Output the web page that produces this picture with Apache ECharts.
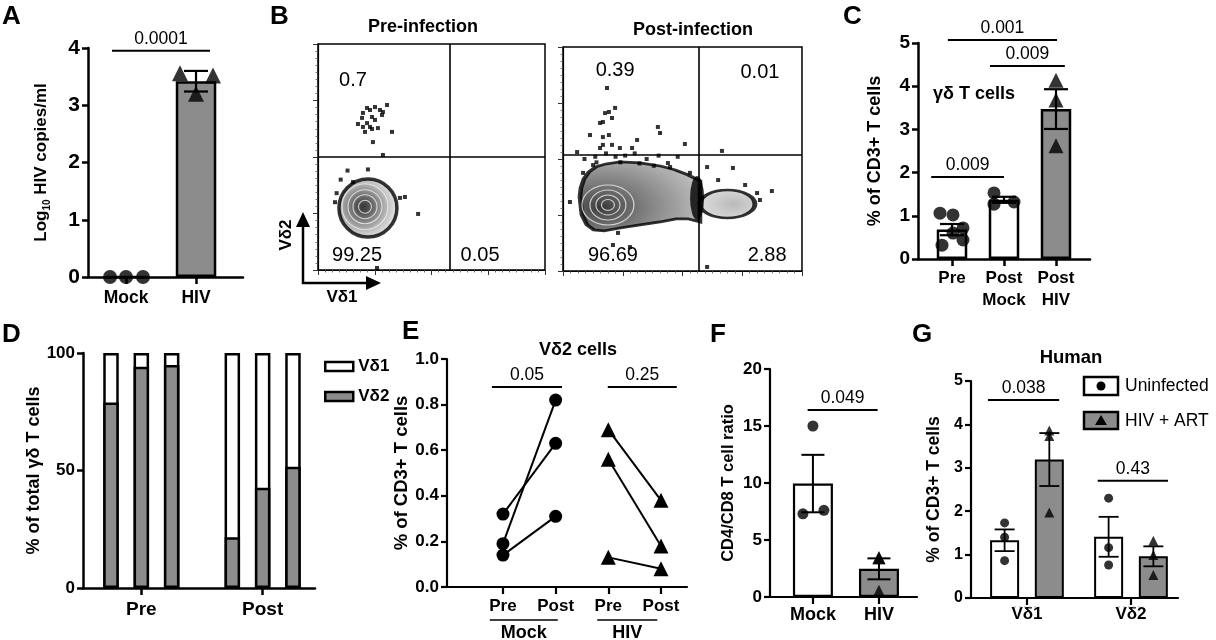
<!DOCTYPE html>
<html><head><meta charset="utf-8">
<script src="https://cdn.jsdelivr.net/npm/echarts@6/dist/echarts.min.js"></script>
<style>html,body{margin:0;padding:0;background:#fff}#c{width:1216px;height:640px}</style>
</head><body><div id="c"></div>
<script>
const FONT = '"Liberation Sans", Arial, Helvetica, sans-serif';
const GREY = '#8c8c8c';

// ---------------- DATA ----------------
// A
const aCats = ['Mock', 'HIV'];
const aMockPts = [0, 0, 0];
const aHivPts = [3.56, 3.20, 3.52];
const aMean = [0, 3.42];
const aSem = [0, 0.18];
// B (flow cytometry, arbitrary 0-100 scale)
const bPreDots = [[19.8,69.5],[21.6,71.7],[22.9,70.8],[25.1,72.1],[27.3,70.8],[30.4,73.0],[28.6,69.9],[23.8,67.7],[21.6,65.0],[17.6,64.6],[19.8,63.3],[22.9,63.3],[20.7,61.1],[23.8,62.4],[26.4,62.8],[32.6,61.1],[24.2,56.6],[28.6,50.9],[25.1,66.4],[28.2,68.6],[19.4,67.3],[36.1,31.9],[38.3,32.3],[44.1,24.8],[26.0,0.9],[15.4,38.9],[7.5,30],[8.2,34],[10,40],[13,44],[22,44.5]];
const bPostDots = [[18.4,81.7],[17.6,70.5],[19.2,71.0],[21.8,72.8],[15.5,66.1],[16.7,66.5],[20.5,68.3],[11.3,60.7],[16.7,59.8],[19.2,60.7],[16.7,56.3],[20.5,56.3],[23.8,54.9],[15.5,54.9],[31.0,58.5],[28.9,54.9],[39.7,64.3],[40.6,61.6],[51.0,56.7],[5.9,53.1],[66.5,53.6],[71.1,46.0],[60.3,46.4],[76.2,38.4],[81.2,34.8],[87.4,35.7],[82.4,31.7],[2.9,30.8],[8.4,43.8],[12.6,47.3],[23.0,17.0],[20.9,11.6],[28.0,10.7],[60.3,1.8],[43.9,48.2],[44.8,46.4],[53.1,43.8],[64.9,40.6],[13.5,51],[26,51.5],[35,50],[9,50],[48,51],[18,52.5],[22,51],[30,52.5],[40,51.5],[14,48.5],[24,48.5],[32,48],[38,47]];
const bPrePop = [22, 27.4];
const bPreCore = [20.7, 28];
const bPostPop = [32.2, 33.3];
const bPostCore = [18.8, 29.5];
const bPostPop2 = [68.8, 29.9];
const bPostWaist = [56.1, 32.6];
const bPreGate = [58, 50];
const bPostGate = [57, 52];
const bPreQuad = ['0.7', '', '99.25', '0.05'];
const bPostQuad = ['0.39', '0.01', '96.69', '2.88'];
// C
const cCats = ['Pre', 'Post\nMock', 'Post\nHIV'];
const cPrePts = [1.06, 1.02, 0.72, 0.32, 0.60, 0.44];
const cPostMockPts = [1.53, 1.27, 1.32];
const cPostHivPts = [4.14, 3.68, 2.62];
const cMean = [0.68, 1.37, 3.47];
const cSem = [0.13, 0.07, 0.46];
// D
const dCats = ['Pre', 'Post'];
const dVd1 = [21.1, 5.8, 5.1, 78.4, 57.3, 48.4];
const dVd2 = [78.9, 94.2, 94.9, 21.6, 42.7, 51.6];
// E
const eTicks = ['Pre', 'Post', 'Pre', 'Post'];
const eGroups = ['Mock', 'HIV'];
const eMockPre = [0.19, 0.32, 0.14];
const eMockPost = [0.82, 0.63, 0.31];
const eHivPre = [0.69, 0.56, 0.13];
const eHivPost = [0.38, 0.18, 0.08];
// F
const fCats = ['Mock', 'HIV'];
const fMockPts = [15.0, 7.3, 7.6];
const fHivPts = [3.45, 3.45, 0.5];
const fMean = [9.95, 2.47];
const fSem = [2.52, 0.92];
// G
const gCats = ['Vδ1', 'Vδ2'];
const gUninf = [[1.73, 1.40, 0.86], [2.30, 1.16, 0.76]];
const gHiv = [[3.86, 3.73, 1.97], [1.32, 0.99, 0.53]];
const gUninfMean = [1.33, 1.41];
const gUninfSem = [0.25, 0.46];
const gHivMean = [3.19, 0.96];
const gHivSem = [0.61, 0.23];
// p-values
const pValues = ['0.0001', '0.001', '0.009', '0.009', '0.05', '0.25', '0.049', '0.038', '0.43'];

// ---------------- LAYOUT ----------------
const aJit = [-16, 0, 17];
const cJit = [[-12, 1, 11, -10, 1, 11], [-10, -10, 10], [0, 0, 0]];
const fJit = [[0, -10, 11], [0, 0, 0]];
const dX = [0, 1, 2, 4, 5, 6];
const gOff = 0.215;
const sigLayout = [
  {g:0, x1:-0.2, x2:1.2, y:3.95},
  {g:3, x1:-0.08, x2:2.02, y:5.07},
  {g:3, x1:0.73, x2:2.17, y:4.47},
  {g:3, x1:-0.4, x2:1.0, y:1.9},
  {g:5, x1:0.79, x2:2.12, y:0.877},
  {g:5, x1:2.99, x2:4.30, y:0.877},
  {g:6, x1:-0.08, x2:0.98, y:16.4},
  {g:7, x1:-0.375, x2:0.31, y:4.56},
  {g:7, x1:0.68, x2:1.356, y:2.7}
];

const grids = [
  {left:88, top:48, width:155, height:229},
  {left:318, top:44, width:227, height:226, show:true, borderColor:'#000', borderWidth:1.5},
  {left:563, top:47, width:239, height:224, show:true, borderColor:'#000', borderWidth:1.5},
  {left:918, top:43, width:172, height:216},
  {left:83, top:353, width:232, height:235},
  {left:447, top:359, width:240, height:228},
  {left:770, top:369, width:147, height:228},
  {left:971, top:381, width:207, height:217}
];

function yAx(gi, min, max, interval, fs, lw, name, nameGap, nfs, fmt, nameStyle) {
  return {type:'value', gridIndex:gi, min, max, interval,
    axisLine:{show:true, onZero:false, lineStyle:{color:'#000', width:lw}},
    axisTick:{show:true, length:6, lineStyle:{color:'#000', width:lw}},
    axisLabel:{color:'#000', fontWeight:'bold', fontSize:fs, fontFamily:FONT, margin:8, formatter:fmt},
    splitLine:{show:false},
    name, nameLocation:'middle', nameGap, nameRotate:90,
    nameTextStyle: nameStyle || {color:'#000', fontWeight:'bold', fontSize:nfs, fontFamily:FONT}
  };
}
function xAx(gi, min, max, vals, labels, fs, lw, margin, lh) {
  return {type:'value', gridIndex:gi, min, max,
    axisLine:{show:true, onZero:false, lineStyle:{color:'#000', width:lw}},
    axisTick:{show:true, length:7, customValues:vals, lineStyle:{color:'#000', width:lw}},
    axisLabel:{show:true, customValues:vals,
      formatter:(v)=>{const k = vals.findIndex(u=>Math.abs(u-v)<1e-6); return k>=0 ? labels[k] : '';},
      color:'#000', fontWeight:'bold', fontSize:fs, fontFamily:FONT, margin, lineHeight: lh || fs + 4},
    splitLine:{show:false}};
}
function flowAx(gi) {
  return {type:'value', gridIndex:gi, min:0, max:100, interval:25,
    axisLine:{show:true, onZero:false, lineStyle:{color:'#000', width:1.2}},
    axisTick:{show:true, length:5, lineStyle:{color:'#333', width:1}},
    minorTick:{show:true, splitNumber:8, length:2.5, lineStyle:{color:'#555', width:0.8}},
    axisLabel:{show:false}, splitLine:{show:false}};
}
function errRender(capHalf, lw) {
  return function (params, api) {
    const x = api.value(0), m = api.value(1), s = api.value(2);
    if (!s) return null;
    const t = api.coord([x, m + s]), b = api.coord([x, m - s]);
    const st = {stroke:'#000', lineWidth:lw};
    return {type:'group', children:[
      {type:'line', shape:{x1:t[0], y1:t[1], x2:b[0], y2:b[1]}, style:st},
      {type:'line', shape:{x1:t[0]-capHalf, y1:t[1], x2:t[0]+capHalf, y2:t[1]}, style:st},
      {type:'line', shape:{x1:b[0]-capHalf, y1:b[1], x2:b[0]+capHalf, y2:b[1]}, style:st}
    ]};
  };
}
const barStyle = (c, bw) => ({color:c, borderColor:'#000', borderWidth:bw});
function pts(gi, arr, x, sym, size, jit) {
  return {type:'scatter', xAxisIndex:gi, yAxisIndex:gi, symbol:sym, symbolSize:size, clip:false, z:5,
    itemStyle:{color:'#000'},
    data: arr.map((v, i) => ({value:[x, v], symbolOffset:[jit ? jit[i] : 0, 0]}))};
}
function radial(x, y, r, stops) {
  return {type:'radial', x, y, r, colorStops: stops.map(s => ({offset:s[0], color:s[1]}))};
}

const xAxis = [
  xAx(0, -0.543, 1.671, [0, 1], aCats, 17.5, 2.5, 10),
  flowAx(1), flowAx(2),
  xAx(3, -0.654, 2.654, [0, 1, 2], cCats, 17, 2.5, 8, 22),
  xAx(4, -0.923, 6.726, [1, 5], dCats, 19, 2.5, 10),
  xAx(5, -0.063, 4.494, [1, 2, 3, 4], eTicks, 17, 2.2, 9),
  xAx(6, -0.65, 1.576, [0, 1], fCats, 18, 2.2, 7),
  xAx(7, -0.538, 1.452, [0, 1], gCats, 17, 2.2, 6)
];
const yAxis = [
  yAx(0, 0, 4, 1, 21, 2.5, '{a|Log}{s|10}{a| HIV copies/ml}', 36, 17, null,
      {rich:{a:{color:'#000', fontWeight:'bold', fontSize:17, fontFamily:FONT, lineHeight:22},
             s:{color:'#000', fontWeight:'bold', fontSize:10, fontFamily:FONT, lineHeight:22, verticalAlign:'bottom'}}}),
  flowAx(1), flowAx(2),
  yAx(3, 0, 5, 1, 19, 2.5, '% of CD3+ T cells', 34, 18),
  yAx(4, 0, 100, 50, 17, 2.5, '% of total γδ T cells', 40, 18),
  yAx(5, 0, 1, 0.2, 17, 2.2, '% of CD3+ T cells', 22, 18.5, v => v.toFixed(1)),
  yAx(6, 0, 20, 5, 17, 2.2, 'CD4/CD8 T cell ratio', 33, 16.5),
  yAx(7, 0, 5, 1, 16, 2.2, '% of CD3+ T cells', 28, 17.5)
];

const series = [];
// ---- A ----
series.push({type:'bar', xAxisIndex:0, yAxisIndex:0, barWidth:40.5, z:2,
  data: aMean.map((m, i) => ({value:[i, m], itemStyle: barStyle(i ? GREY : '#fff', 2.5)}))});
series.push({type:'custom', xAxisIndex:0, yAxisIndex:0, z:6, renderItem: errRender(12, 2.2), encode:{x:0, y:1},
  data: aMean.map((m, i) => [i, m, aSem[i]])});
series.push(pts(0, aMockPts, 0, 'circle', 14, aJit));
series.push(pts(0, aHivPts, 1, 'triangle', 16, aJit));
// ---- B ----
function flowSeries(gi, dots, gate) {
  return {type:'scatter', xAxisIndex:gi, yAxisIndex:gi, symbol:'rect', symbolSize:4, z:4,
    itemStyle:{color:'#000'}, data: dots,
    markLine:{silent:true, symbol:'none', label:{show:false}, z:6,
      lineStyle:{color:'#000', type:'solid', width:1.6},
      data:[{xAxis:gate[0]}, {yAxis:gate[1]}]}};
}
series.push({type:'scatter', xAxisIndex:1, yAxisIndex:1, symbol:'circle', symbolSize:58, z:2,
  itemStyle:{color: radial(0.42, 0.48, 0.55, [[0,'#050505'],[0.18,'#262626'],[0.45,'#6a6a6a'],[0.75,'#b4b4b4'],[1,'#e2e2e2']]),
    borderColor:'#000', borderWidth:3.5}, data:[bPrePop]});
series.push({type:'scatter', xAxisIndex:1, yAxisIndex:1, symbol:'circle', z:3,
  itemStyle:{color:'rgba(0,0,0,0)', borderColor:'#eee', borderWidth:1.1},
  data:[46, 34, 24, 13].map(s => ({value:bPreCore, symbolSize:s}))});
series.push(flowSeries(1, bPreDots, bPreGate));
series.push({type:'scatter', xAxisIndex:2, yAxisIndex:2, z:2,
  symbol:'path://M0,35 L1,26 L4,17 L9,10 L16,5 L26,2 L40,0 L60,1 L80,4 L95,8 L108,13 L120,19 L120,60 L108,57 L96,57 L80,60 L60,63 L40,66 L24,69 L14,68 L7,63 L2,53 Z',
  symbolSize:[120, 69],
  itemStyle:{color: radial(0.19, 0.65, 1.3, [[0,'#050505'],[0.08,'#262626'],[0.25,'#5a5a5a'],[0.5,'#909090'],[0.75,'#c2c2c2'],[1,'#e0e0e0']]),
    borderColor:'#000', borderWidth:3.5}, data:[bPostPop]});
series.push({type:'scatter', xAxisIndex:2, yAxisIndex:2, symbol:'circle', symbolSize:[55, 28], z:2,
  itemStyle:{color: radial(0.6, 0.5, 0.9, [[0,'#a9a9a9'],[0.5,'#cbcbcb'],[1,'#e8e8e8']]),
    borderColor:'#000', borderWidth:3.5}, data:[bPostPop2]});
series.push({type:'scatter', xAxisIndex:2, yAxisIndex:2, symbol:'circle', symbolSize:[14, 44], z:3,
  itemStyle:{color:'#000'}, data:[bPostWaist]});
series.push({type:'scatter', xAxisIndex:2, yAxisIndex:2, symbol:'circle', z:3,
  itemStyle:{color:'rgba(0,0,0,0)', borderColor:'#eee', borderWidth:1.1},
  data:[[52, 40], [36, 30], [24, 20], [13, 11]].map(s => ({value:bPostCore, symbolSize:s}))});
series.push(flowSeries(2, bPostDots, bPostGate));
// ---- C ----
series.push({type:'bar', xAxisIndex:3, yAxisIndex:3, barWidth:30.5, z:2,
  data: cMean.map((m, i) => ({value:[i, m], itemStyle: barStyle(i === 2 ? GREY : '#fff', 2.5)}))});
series.push({type:'custom', xAxisIndex:3, yAxisIndex:3, z:6, renderItem: errRender(12, 2.2), encode:{x:0, y:1},
  data: cMean.map((m, i) => [i, m, cSem[i]])});
series.push(pts(3, cPrePts, 0, 'circle', 13, cJit[0]));
series.push(pts(3, cPostMockPts, 1, 'circle', 13, cJit[1]));
series.push(pts(3, cPostHivPts, 2, 'triangle', 15, cJit[2]));
// ---- D ----
series.push({type:'bar', name:'Vδ1', xAxisIndex:4, yAxisIndex:4, barWidth:15.5, barGap:'-100%', z:2,
  itemStyle: barStyle('#fff', 2.5),
  data: dX.map((x, i) => [x, dVd1[i] + dVd2[i]])});
series.push({type:'bar', name:'Vδ2', xAxisIndex:4, yAxisIndex:4, barWidth:15.5, barGap:'-100%', z:3,
  itemStyle: barStyle(GREY, 2.5),
  data: dX.map((x, i) => [x, dVd2[i]])});
// ---- E ----
eMockPre.forEach((v, i) => series.push({type:'line', xAxisIndex:5, yAxisIndex:5, symbol:'circle', symbolSize:13,
  showSymbol:true, clip:false, lineStyle:{color:'#000', width:2}, itemStyle:{color:'#000'}, z:4,
  data:[[1, v], [2, eMockPost[i]]]}));
eHivPre.forEach((v, i) => series.push({type:'line', xAxisIndex:5, yAxisIndex:5, symbol:'triangle', symbolSize:15,
  showSymbol:true, clip:false, lineStyle:{color:'#000', width:2}, itemStyle:{color:'#000'}, z:4,
  data:[[3, v], [4, eHivPost[i]]]}));
// ---- F ----
series.push({type:'bar', xAxisIndex:6, yAxisIndex:6, barWidth:40, z:2,
  data: fMean.map((m, i) => ({value:[i, m], itemStyle: barStyle(i ? GREY : '#fff', 2.2)}))});
series.push({type:'custom', xAxisIndex:6, yAxisIndex:6, z:6, renderItem: errRender(11.5, 2), encode:{x:0, y:1},
  data: fMean.map((m, i) => [i, m, fSem[i]])});
series.push(pts(6, fMockPts, 0, 'circle', 11, fJit[0]));
series.push(pts(6, fHivPts, 1, 'triangle', 13, fJit[1]));
// ---- G ----
series.push({type:'bar', xAxisIndex:7, yAxisIndex:7, barWidth:29, barGap:'-100%', z:2,
  itemStyle: barStyle('#fff', 2), data: gUninfMean.map((m, i) => [i - gOff, m])});
series.push({type:'bar', xAxisIndex:7, yAxisIndex:7, barWidth:29, barGap:'-100%', z:2,
  itemStyle: barStyle(GREY, 2), data: gHivMean.map((m, i) => [i + gOff, m])});
series.push({type:'custom', xAxisIndex:7, yAxisIndex:7, z:6, renderItem: errRender(10, 1.8), encode:{x:0, y:1},
  data: gUninfMean.map((m, i) => [i - gOff, m, gUninfSem[i]]).concat(gHivMean.map((m, i) => [i + gOff, m, gHivSem[i]]))});
gUninf.forEach((arr, i) => series.push(pts(7, arr, i - gOff, 'circle', 9)));
gHiv.forEach((arr, i) => series.push(pts(7, arr, i + gOff, 'triangle', 10)));

const option = {
  animation:false, backgroundColor:'#fff',
  grid: grids, xAxis, yAxis, series,
  legend:{data:['Vδ1', 'Vδ2'], orient:'vertical', left:319, top:353, itemWidth:28, itemHeight:9, itemGap:13,
    icon:'rect', selectedMode:false, itemStyle:{borderColor:'#000', borderWidth:2.5},
    textStyle:{fontWeight:'bold', fontSize:17, fontFamily:FONT, color:'#000'}}
};

const chart = echarts.init(document.getElementById('c'));
chart.setOption(option);

// ---------------- ANNOTATIONS ----------------
const P = (gi, x, y) => chart.convertToPixel({gridIndex: gi}, [x, y]);
const g = [];
const txt = (text, x, y, fs, bold, align, va, rot) => g.push({type:'text', x, y, rotation: rot || 0, z:10,
  style:{text, fill:'#000', fontSize:fs, fontWeight: bold ? 'bold' : 'normal', fontFamily:FONT,
    align: align || 'center', verticalAlign: va || 'middle'}});
const line = (x1, y1, x2, y2, w, color, dash) => g.push({type:'line', z:10, shape:{x1, y1, x2, y2},
  style:{stroke: color || '#000', lineWidth:w || 2, lineDash: dash || null}});

sigLayout.forEach((s, k) => {
  const a = P(s.g, s.x1, s.y), b = P(s.g, s.x2, s.y);
  line(a[0], a[1], b[0], b[1], 2);
  txt(pValues[k], (a[0] + b[0]) / 2, a[1] - 3, 17.5, false, 'center', 'bottom');
});
// panel letters
[['A', 2, 17], ['B', 270, 17], ['C', 843, 17], ['D', 2, 335], ['E', 402, 332], ['F', 710, 335], ['G', 912, 335]]
  .forEach(l => txt(l[0], l[1], l[2], 26, true, 'left', 'middle'));
// titles
txt('Pre-infection', 423, 27, 18, true);
txt('Post-infection', 693, 30, 18, true);
txt('Vδ2 cells', 578, 350, 18, true);
txt('Human', 1071, 358, 18.5, true);
txt('γδ T cells', 933, 94, 18, true, 'left');
// B quadrant numbers
const quadPos = [[15.4, 84], [82, 84], [17.2, 6.6], [71.4, 6.6]];
const quadPosPost = [[21.8, 89.7], [82.4, 88.8], [20.9, 7.1], [85.4, 7.1]];
bPreQuad.forEach((t, i) => { if (t) { const p = P(1, quadPos[i][0], quadPos[i][1]); txt(t, p[0], p[1], 20, false); } });
bPostQuad.forEach((t, i) => { const p = P(2, quadPosPost[i][0], quadPosPost[i][1]); txt(t, p[0], p[1], 20, false); });
// B axis arrows
line(303, 284, 303, 226, 2.5); line(302, 283, 367, 283, 2.5);
g.push({type:'polygon', z:10, shape:{points:[[296, 227], [310, 227], [303, 212]]}, style:{fill:'#000'}});
g.push({type:'polygon', z:10, shape:{points:[[366, 276], [366, 290], [381, 283]]}, style:{fill:'#000'}});
txt('Vδ2', 286, 235, 17, true, 'center', 'middle', Math.PI / 2);
txt('Vδ1', 342, 297, 17, true);
// E group labels
[[0.75, 2.04], [2.79, 3.93]].forEach((r, i) => {
  const a = P(5, r[0], 0), b = P(5, r[1], 0);
  line(a[0], a[1] + 33, b[0], b[1] + 33, 1.6);
  txt(eGroups[i], (a[0] + b[0]) / 2, a[1] + 46, 18, true);
});
// G faint dotted marks under the category ticks
[0, 1].forEach(i => { const p = P(7, i, 0); line(p[0] - 13, p[1] + 9, p[0] + 13, p[1] + 9, 1, '#aaa', [2, 3]); });
// G legend
g.push({type:'rect', z:10, shape:{x:1084, y:377, width:34, height:18}, style:{fill:'#fff', stroke:'#000', lineWidth:2.5}});
g.push({type:'circle', z:11, shape:{cx:1101, cy:386, r:4.5}, style:{fill:'#000'}});
g.push({type:'rect', z:10, shape:{x:1084, y:412, width:34, height:17}, style:{fill:GREY, stroke:'#000', lineWidth:2.5}});
g.push({type:'polygon', z:11, shape:{points:[[1095, 425], [1107, 425], [1101, 415]]}, style:{fill:'#000'}});
txt('Uninfected', 1125, 386, 17.5, false, 'left');
txt('HIV + ART', 1125, 421, 17.5, false, 'left');

chart.setOption({graphic: g});
</script></body></html>
